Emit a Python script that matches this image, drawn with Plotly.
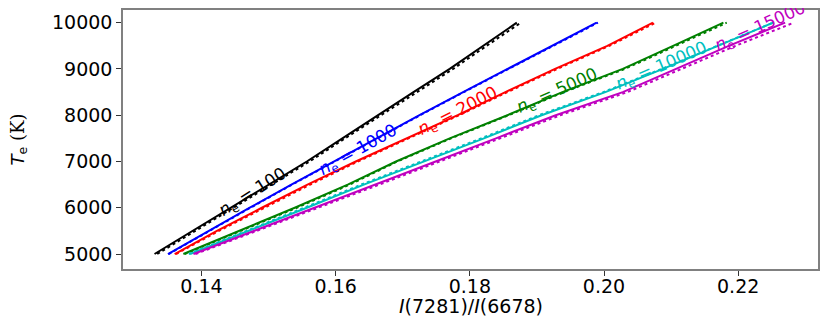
import plotly.graph_objects as go

# electron temperature grid (K)
te = [5000, 5500, 6000, 6500, 7000, 7500, 8000, 8500, 9000, 9500, 10000]

# I(7281)/I(6678), solid = model, dotted = fit
ratio_100 = [0.1330, 0.1387, 0.1444, 0.1501, 0.1557, 0.1610, 0.1662, 0.1716, 0.1770, 0.1820, 0.1870]
ratio_1000 = [0.1350, 0.1410, 0.1472, 0.1534, 0.1597, 0.1661, 0.1725, 0.1790, 0.1856, 0.1922, 0.1989]
ratio_2000 = [0.1360, 0.1423, 0.1490, 0.1558, 0.1630, 0.1707, 0.1782, 0.1853, 0.1927, 0.2005, 0.2073]
ratio_5000 = [0.1373, 0.1456, 0.1539, 0.1618, 0.1690, 0.1770, 0.1856, 0.1938, 0.2028, 0.2103, 0.2178]
ratio_10000 = [0.1383, 0.1471, 0.1557, 0.1642, 0.1732, 0.1821, 0.1907, 0.2002, 0.2088, 0.2169, 0.2252]
ratio_15000 = [0.1388, 0.1479, 0.1570, 0.1660, 0.1749, 0.1839, 0.1928, 0.2028, 0.2107, 0.2186, 0.2270]

fit_100 = [0.1334, 0.1391, 0.1448, 0.1505, 0.1561, 0.1614, 0.1667, 0.1721, 0.1775, 0.1825, 0.1876]
fit_1000 = [0.1351, 0.1411, 0.1473, 0.1535, 0.1598, 0.1662, 0.1726, 0.1791, 0.1857, 0.1923, 0.1991]
fit_2000 = [0.1362, 0.1426, 0.1494, 0.1562, 0.1633, 0.1709, 0.1784, 0.1856, 0.1930, 0.2008, 0.2077]
fit_5000 = [0.1375, 0.1459, 0.1542, 0.1621, 0.1692, 0.1772, 0.1858, 0.1940, 0.2031, 0.2107, 0.2183]
fit_10000 = [0.1381, 0.1468, 0.1553, 0.1638, 0.1728, 0.1817, 0.1903, 0.1999, 0.2086, 0.2168, 0.2252]
fit_15000 = [0.1391, 0.1483, 0.1575, 0.1665, 0.1755, 0.1845, 0.1935, 0.2035, 0.2115, 0.2196, 0.2283]

densities = ['100', '1000', '2000', '5000', '10000', '15000']
colors = ['#000000', '#0000ff', '#ff0000', '#008000', '#00bfbf', '#bf00bf']
solid = [ratio_100, ratio_1000, ratio_2000, ratio_5000, ratio_10000, ratio_15000]
dotted = [fit_100, fit_1000, fit_2000, fit_5000, fit_10000, fit_15000]

# inline label placement (x, y, angle)
label_pos = [(0.1477, 6330, -32), (0.1634, 7240, -29), (0.1783, 8070, -27),
             (0.1930, 8520, -24), (0.2086, 9060, -23), (0.2233, 9890, -24)]

fig = go.Figure()
for ne, col, xs, xf in zip(densities, colors, solid, dotted):
    fig.add_trace(go.Scatter(x=xs, y=te, mode='lines', line=dict(color=col, width=2), name='ne=' + ne))
    fig.add_trace(go.Scatter(x=xf, y=te, mode='lines', line=dict(color=col, width=2, dash='dot'), showlegend=False))

for ne, col, (lx, ly, ang) in zip(densities, colors, label_pos):
    fig.add_annotation(x=lx, y=ly, text='<i>n</i><sub>e</sub> = ' + ne, showarrow=False,
                       textangle=ang, font=dict(family='DejaVu Sans', size=17, color=col))

# axis titles
fig.add_annotation(xref='paper', yref='paper', x=0.5, y=-0.142, xanchor='center', yanchor='middle',
                   showarrow=False, text='<i>I</i>(7281)/<i>I</i>(6678)',
                   font=dict(family='DejaVu Sans', size=19, color='black'))
fig.add_annotation(xref='paper', yref='paper', x=-0.151, y=0.5, xanchor='center', yanchor='middle',
                   textangle=-90, showarrow=False,
                   text='<i>T</i><sub>e</sub><span style="font-family:DejaVu Serif"> (K)</span>',
                   font=dict(family='DejaVu Sans', size=18, color='black'))

axis_style = dict(showline=True, mirror=True, linecolor='#808080', linewidth=1.5, showgrid=False,
                  zeroline=False, ticks='outside', ticklen=5, tickcolor='#333333', automargin=False,
                  tickfont=dict(family='DejaVu Sans', size=19, color='black'))
fig.update_xaxes(range=[0.1283, 0.2319], tickvals=[0.14, 0.16, 0.18, 0.20, 0.22],
                 ticktext=['0.14', '0.16', '0.18', '0.20', '0.22'], ticklabelstandoff=-6, **axis_style)
fig.update_yaxes(range=[4676, 10274], tickvals=[5000, 6000, 7000, 8000, 9000, 10000],
                 ticktext=['5000', '6000', '7000', '8000', '9000', '10000'], **axis_style)

# page body has an 8px margin, so the figure is a bit smaller than the window
fig.update_layout(width=822, height=319, margin=dict(l=115, r=12, t=2, b=58),
                  plot_bgcolor='white', paper_bgcolor='white', showlegend=False)

fig.write_html("out.html")
